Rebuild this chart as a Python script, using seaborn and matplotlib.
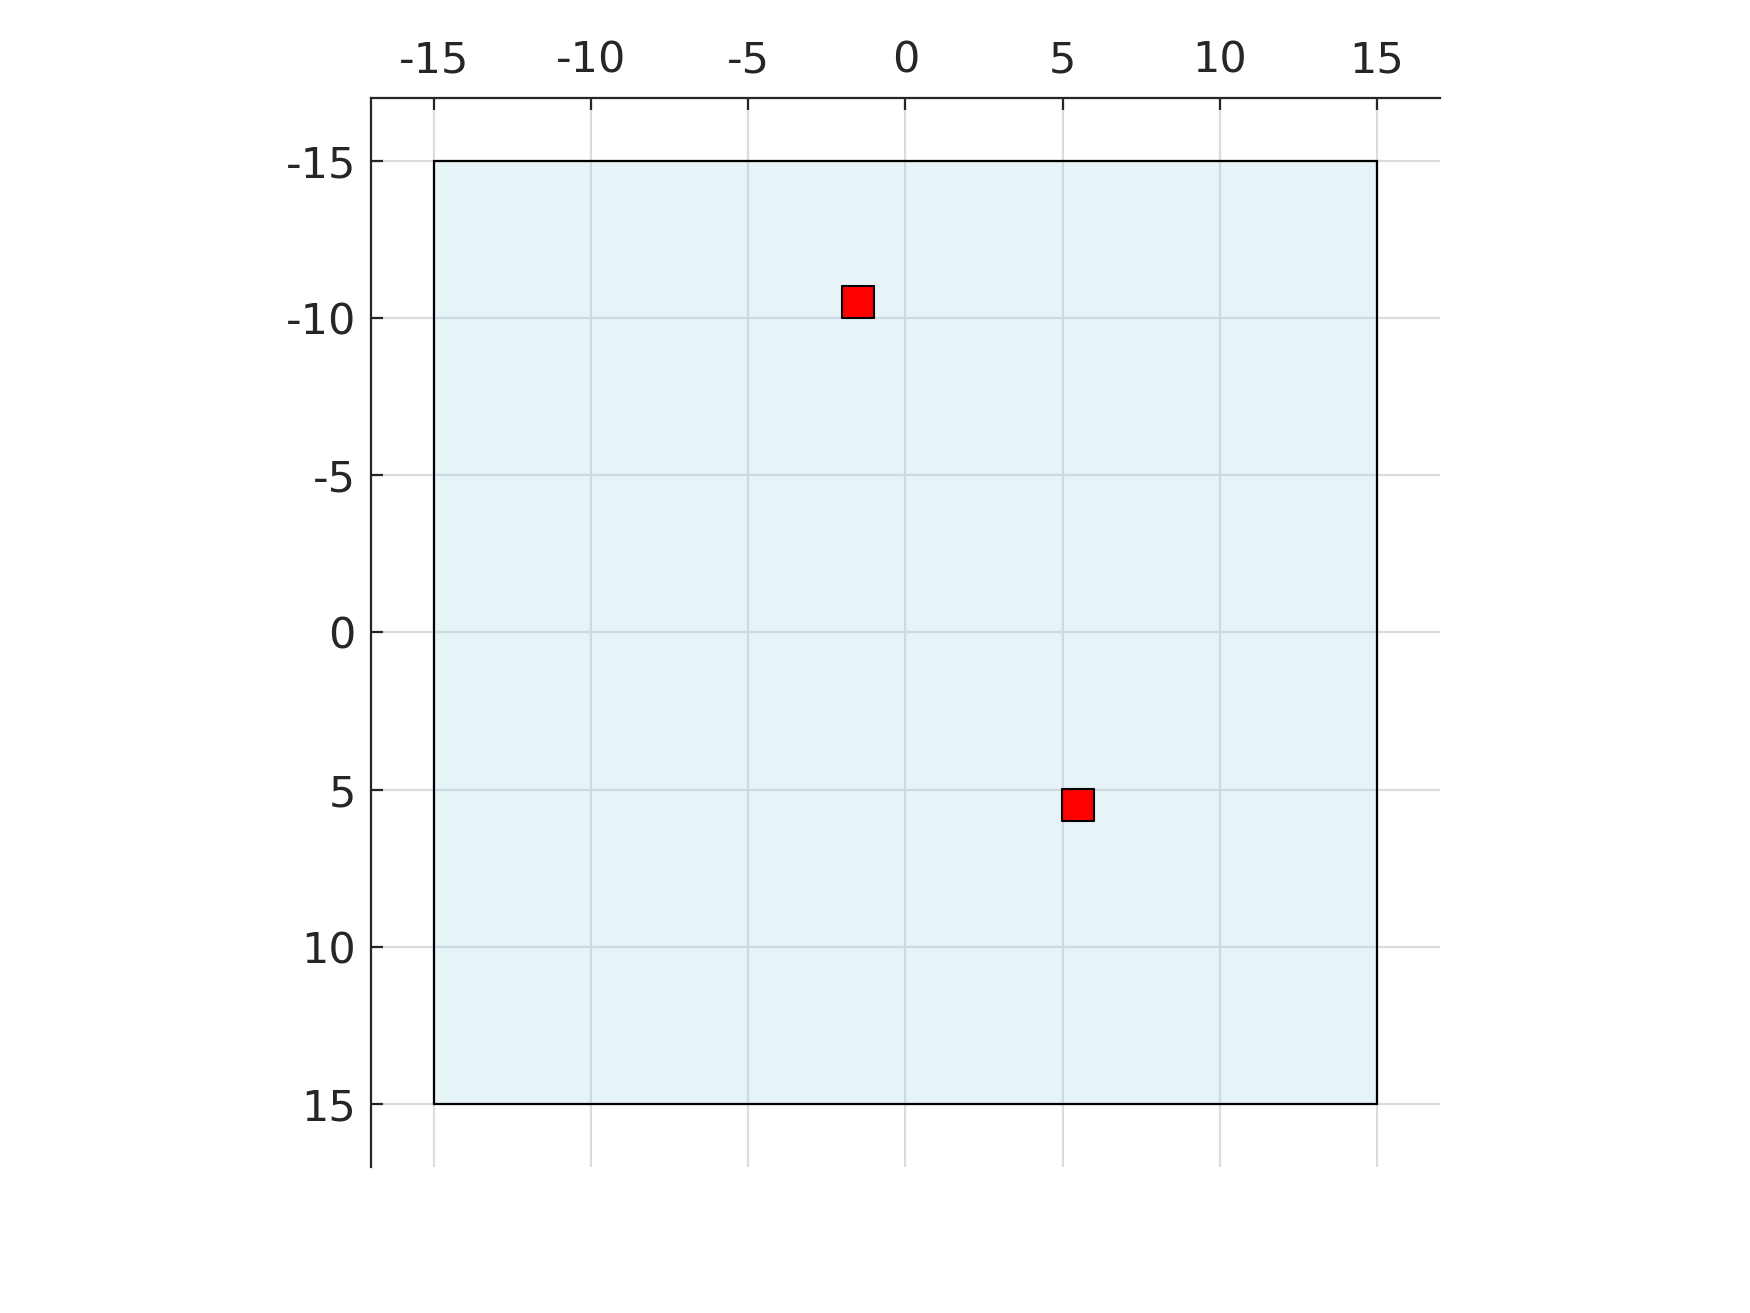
import matplotlib
matplotlib.use("Agg")
import matplotlib.pyplot as plt
import seaborn as sns
import pandas as pd
from matplotlib.patches import Rectangle

# region and points
region_min = -15
region_max = 15
point_x = [-1.5, 5.5]
point_y = [-10.5, 5.5]
ticks = [-15, -10, -5, 0, 5, 10, 15]

points = pd.DataFrame({"x": point_x, "y": point_y})

sns.set_style("white")
plt.rcParams["font.family"] = ["DejaVu Sans"]
plt.rcParams["axes.unicode_minus"] = False

fig = plt.figure(figsize=(8.75, 6.565), dpi=200)
ax = fig.add_axes([0.2114, 0.1112, 0.612, 0.8142])

ax.add_patch(Rectangle((region_min, region_min), region_max - region_min,
                       region_max - region_min, facecolor="lightblue",
                       alpha=0.3, edgecolor="none", zorder=1))
ax.add_patch(Rectangle((region_min, region_min), region_max - region_min,
                       region_max - region_min, facecolor="none",
                       edgecolor="black", linewidth=0.8, zorder=3))

sns.scatterplot(data=points, x="x", y="y", marker="s", s=125, color="red",
                edgecolor="black", linewidth=0.75, ax=ax, zorder=4)

ax.set_xlim(-17, 17)
ax.set_ylim(17, -17)
ax.set_aspect("equal")
ax.set_xticks(ticks)
ax.set_yticks(ticks)
ax.xaxis.tick_top()
ax.set_xlabel("")
ax.set_ylabel("")

ax.set_axisbelow(True)
ax.grid(True, color="#dcdcdc", linewidth=0.8, zorder=0)

for side in ["right", "bottom"]:
    ax.spines[side].set_visible(False)
for side in ["left", "top"]:
    ax.spines[side].set_color("#262626")
    ax.spines[side].set_linewidth(0.8)

ax.tick_params(direction="in", length=4.3, width=0.8, color="#262626",
               labelsize=15.5, labelcolor="#262626", pad=5.4,
               top=True, bottom=False, left=True, right=False)
ax.tick_params(axis="x", pad=5.8)

fig.savefig("out.png", dpi=200)
